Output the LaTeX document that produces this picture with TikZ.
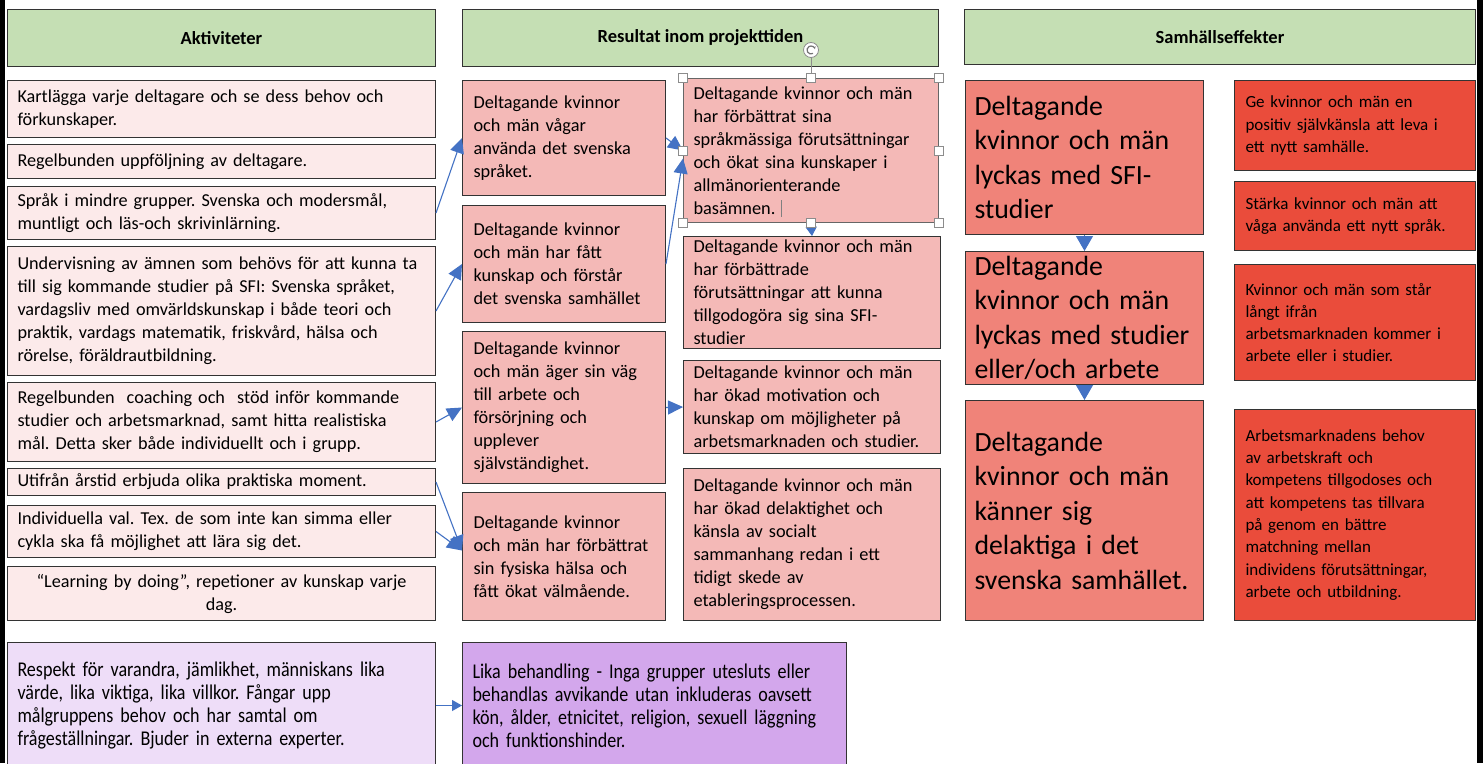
\documentclass[tikz,border=0pt]{standalone}
\usepackage{fontspec}
\setmainfont{Carlito}
\newfontfamily\narrowfont{Carlito}[FakeStretch=0.86]
\usetikzlibrary{arrows.meta}

\definecolor{headgreen}{HTML}{C5DFB4}
\definecolor{actpink}{HTML}{FCEAEA}
\definecolor{respink}{HTML}{F4B9B7}
\definecolor{bigsalmon}{HTML}{F08379}
\definecolor{effred}{HTML}{EA4C3B}
\definecolor{lilac}{HTML}{EEDDF8}
\definecolor{violet}{HTML}{D3A7EC}
\definecolor{arrowblue}{HTML}{4472C4}

\tikzset{
	box/.style={draw=black!80, line width=1, anchor=north west, align=left, inner ysep=2},
	head/.style={box, fill=headgreen, align=center, font=\fontsize{18.5}{22}\selectfont\bfseries},
	actbox/.style={box, fill=actpink, minimum width=428, text width=408, inner xsep=10, font=\fontsize{18.2}{23}\selectfont},
	midbox/.style={box, fill=respink, minimum width=203, text width=181, inner xsep=11, font=\fontsize{18.3}{23}\selectfont},
	widebox/.style={box, fill=respink, minimum width=257, text width=237, inner xsep=10, font=\fontsize{18.3}{23}\selectfont},
	bigbox/.style={box, fill=bigsalmon, minimum width=238, text width=220, inner xsep=9, font=\fontsize{27.8}{34.5}\selectfont},
	effbox/.style={box, fill=effred, minimum width=241, text width=219, inner xsep=11, font=\fontsize{17}{22.3}\selectfont},
	valbox/.style={box, minimum width=428, text width=408, inner xsep=10, font=\narrowfont\fontsize{21}{23}\selectfont},
	arr/.style={draw=arrowblue, line width=1.1, -{Triangle[length=15pt,width=14pt]}},
	handle/.style={draw=black!45, fill=white, line width=.8, minimum size=9, inner sep=0}
}

\begin{document}
\frenchspacing
\hyphenpenalty=10000
\begin{tikzpicture}
	[x=1pt,y=-1pt]

\useasboundingbox (0,0) rectangle (1483,763);
\fill[white] (0,0) rectangle (1483,763);
\fill[black] (0,0) rectangle (5,763);
\fill[black] (1477,0) rectangle (1483,763);

	% rubriker
	\node[head, minimum width=428, minimum height=57] (hakt) at (7,9) {Aktiviteter};
	\node[head, minimum width=476, minimum height=57] (hres) at (462,9) {Resultat inom projekttiden};
	\node[head, minimum width=511, minimum height=55] (hsam) at (964,9) {Samhällseffekter};

	% aktiviteter
	\node[actbox, minimum height=57] (kart) at (7,80) {Kartlägga varje deltagare och se dess behov och\\förkunskaper.};
	\node[actbox, minimum height=34] (uppf) at (7,144) {Regelbunden uppföljning av deltagare.};
	\node[actbox, minimum height=53] (sprak) at (7,186) {Språk i mindre grupper. Svenska och modersmål,\\muntligt och läs-och skrivinlärning.};
	\node[actbox, minimum height=129] (underv) at (7,246) {Undervisning av ämnen som behövs för att kunna ta\\till sig kommande studier på SFI: Svenska språket,\\vardagsliv med omvärldskunskap i både teori och\\praktik, vardags matematik, friskvård, hälsa och\\rörelse, föräldrautbildning.};
	\node[actbox, minimum height=79] (coach) at (7,382) {Regelbunden\ \ coaching och\ \ stöd inför kommande\\studier och arbetsmarknad, samt hitta realistiska\\mål. Detta sker både individuellt och i grupp.};
	\node[actbox, minimum height=27] (arstid) at (7,468) {Utifrån årstid erbjuda olika praktiska moment.};
	\node[actbox, minimum height=52] (indiv) at (7,505) {Individuella val. Tex. de som inte kan simma eller\\cykla ska få möjlighet att lära sig det.};
	\node[actbox, minimum height=54, align=center] (doing) at (7,566) {“Learning by doing”, repetioner av kunskap varje\\dag.};

	% resultat
	\node[midbox, minimum height=115] (vagar) at (462,80) {Deltagande kvinnor\\och män vågar\\använda det svenska\\språket.};
	\node[midbox, minimum height=117] (samh) at (462,205) {Deltagande kvinnor\\och män har fått\\kunskap och förstår\\det svenska samhället};
	\node[midbox, minimum height=152] (vag) at (462,331) {Deltagande kvinnor\\och män äger sin väg\\till arbete och\\försörjning och\\upplever\\självständighet.};
	\node[midbox, minimum height=128] (halsa) at (462,492) {Deltagande kvinnor\\och män har förbättrat\\sin fysiska hälsa och\\fått ökat välmående.};

	\node[widebox, minimum width=255, text width=235, minimum height=144, draw=black!60] (sprakf) at (683,78) {Deltagande kvinnor och män\\har förbättrat sina\\språkmässiga förutsättningar\\och ökat sina kunskaper i\\allmänorienterande\\basämnen.};
	\node[widebox, minimum height=112] (sfi) at (683,236) {Deltagande kvinnor och män\\har förbättrade\\förutsättningar att kunna\\tillgodogöra sig sina SFI-\\studier};
	\node[widebox, minimum height=93] (motiv) at (683,360) {Deltagande kvinnor och män\\har ökad motivation och\\kunskap om möjligheter på\\arbetsmarknaden och studier.};
	\node[widebox, minimum height=152] (delakt) at (683,468) {Deltagande kvinnor och män\\har ökad delaktighet och\\känsla av socialt\\sammanhang redan i ett\\tidigt skede av\\etableringsprocessen.};

	% samhallseffekter
	\node[bigbox, minimum height=154] (lyck) at (965,80) {Deltagande\\kvinnor och män\\lyckas med SFI-\\studier};
	\node[bigbox, minimum height=133] (arb) at (965,251) {Deltagande\\kvinnor och män\\\mbox{lyckas med studier}\\eller/och arbete};
	\node[bigbox, minimum height=220] (kann) at (965,400) {Deltagande\\kvinnor och män\\känner sig\\delaktiga i det\\\mbox{svenska samhället.}};

	\node[effbox, minimum height=90] (sjalv) at (1234,80) {Ge kvinnor och män en\\positiv självkänsla att leva i\\ett nytt samhälle.};
	\node[effbox, minimum height=69] (starka) at (1234,181) {Stärka kvinnor och män att\\våga använda ett nytt språk.};
	\node[effbox, minimum height=116] (langt) at (1234,264) {Kvinnor och män som står\\långt ifrån\\arbetsmarknaden kommer i\\arbete eller i studier.};
	\node[effbox, minimum height=211] (behov) at (1234,409) {Arbetsmarknadens behov\\av arbetskraft och\\kompetens tillgodoses och\\att kompetens tas tillvara\\på genom en bättre\\matchning mellan\\individens förutsättningar,\\arbete och utbildning.};

	% varderingar
	\node[valbox, fill=lilac, minimum height=126] (resp) at (7,642) {Respekt för varandra, jämlikhet, människans lika\\värde, lika viktiga, lika villkor. Fångar upp\\målgruppens behov och har samtal om\\frågeställningar. Bjuder in externa experter.};
	\node[valbox, fill=violet, minimum width=384, text width=364, minimum height=126] (lika) at (462,642) {Lika behandling - Inga grupper utesluts eller\\behandlas avvikande utan inkluderas oavsett\\kön, ålder, etnicitet, religion, sexuell läggning\\och funktionshinder.};

	% pilar
	\draw[arr] (sprak.east) -- (vagar.west);
	\draw[arr] (underv.east) -- (samh.west);
	\draw[arr] (coach.east) -- (vag.west);
	\draw[arr] (arstid.east) -- ([yshift=6pt]halsa.west);
	\draw[arr] (indiv.east) -- ([yshift=6pt]halsa.west);
	\draw[arr] (vagar.east) -- (sprakf.west);
	\draw[arr] (samh.east) -- ([yshift=-8pt]sprakf.west);
	\draw[arr] (vag.east) -- (motiv.west);
	\draw[arr, -{Triangle[length=9pt,width=11pt]}] (sprakf.south) -- (sfi.north);
	\draw[arr, -{Triangle[length=15pt,width=17pt]}] (lyck.south) -- (arb.north);
	\draw[arr, -{Triangle[length=15pt,width=17pt]}] (arb.south) -- (kann.north);
	\draw[arr, -{Triangle[length=10pt,width=11pt]}] (resp.east) -- (lika.west);

	% markering
	\node[handle, circle, minimum size=15] (rot) at ([yshift=28pt]sprakf.north) {};
	\draw[black!45, line width=.8] (rot) -- (sprakf.north);
	\draw[black!55, line width=1.2, -{Stealth[length=3pt]}] ([shift={(60:4)}]rot.center) arc (60:350:4);
	\foreach \aa in {north west,north,north east,west,east,south west,south,south east}
	{
	 \node[handle] (hd-\aa) at (sprakf.\aa) {};
	}
	\draw[black!50, line width=.8] (781,200) -- ++(0,17);

\end{tikzpicture}
\end{document}
